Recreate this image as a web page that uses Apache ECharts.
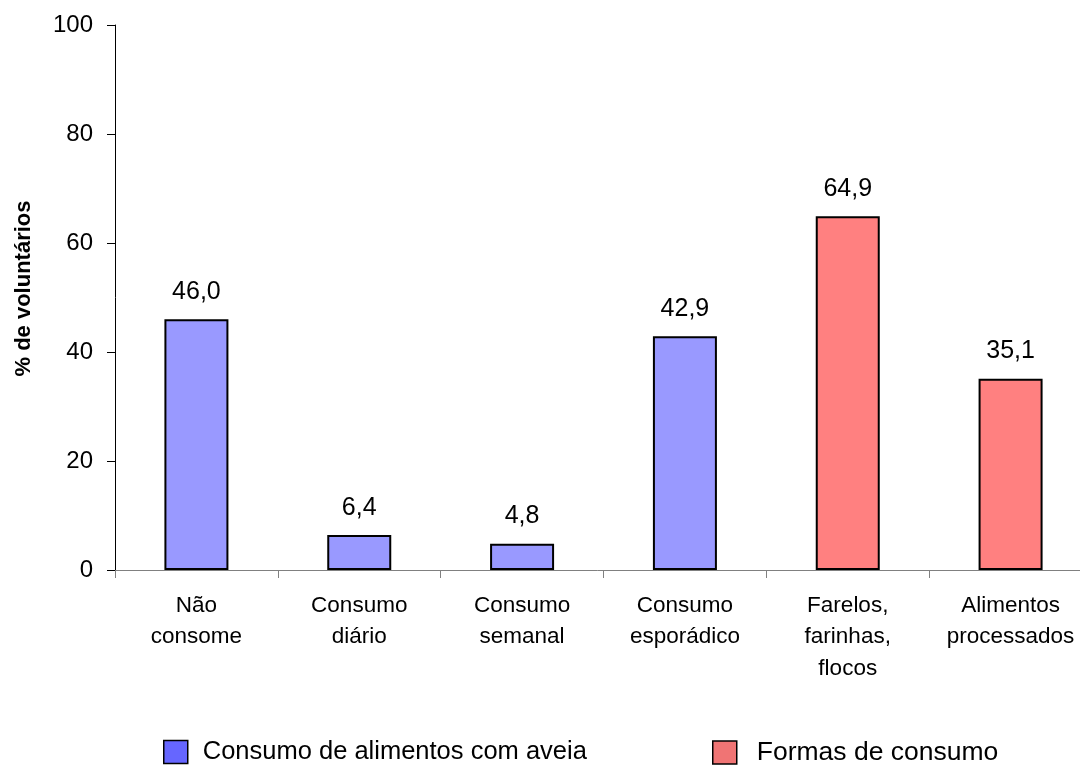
<!DOCTYPE html>
<html>
<head>
<meta charset="utf-8">
<script src="https://cdn.jsdelivr.net/npm/echarts@6/dist/echarts.min.js"></script>
<style>
  html, body { margin: 0; padding: 0; background: #fff; }
  #chart { width: 1080px; height: 765px; }
</style>
</head>
<body>
<div id="chart"></div>
<script>
// Categories along the x axis
const categories = [
  'Não\nconsome',
  'Consumo\ndiário',
  'Consumo\nsemanal',
  'Consumo\nesporádico',
  'Farelos,\nfarinhas,\nflocos',
  'Alimentos\nprocessados'
];
// Percentages for each group (null where the group has no bar)
const consumoAveia = [46.0, 6.4, 4.8, 42.9, null, null];
const formasConsumo = [null, null, null, null, 64.9, 35.1];
const seriesNames = ['Consumo de alimentos com aveia', 'Formas de consumo'];
const yTicks = { min: 0, max: 100, interval: 20 };

const font = 'Arial, "Liberation Sans", sans-serif';

const labelOpt = {
  show: true,
  position: 'top',
  distance: 15,
  fontFamily: font,
  fontSize: 25,
  color: '#000',
  formatter: p => p.value == null ? '' : Number(p.value).toFixed(1).replace('.', ',')
};

const legendBase = {
  icon: 'rect',
  top: 734,
  itemWidth: 24,
  itemHeight: 23,
  orient: 'horizontal'
};

const chart = echarts.init(document.getElementById('chart'), null, { renderer: 'canvas' });
chart.setOption({
  backgroundColor: '#fff',
  animation: false,
  // the last category runs a little past the right edge of the page
  grid: { left: 115, top: 25, bottom: 195, right: -12, outerBoundsMode: 'none' },
  legend: [
    Object.assign({}, legendBase, {
      left: 158,
      textStyle: { fontFamily: font, fontSize: 25.5, color: '#000', padding: [0, 0, 0, 10] },
      data: [{ name: seriesNames[0], itemStyle: { color: '#6666FF', borderColor: '#000', borderWidth: 1.5 } }]
    }),
    Object.assign({}, legendBase, {
      left: 707,
      textStyle: { fontFamily: font, fontSize: 26.5, color: '#000', padding: [0, 0, 0, 15] },
      data: [{ name: seriesNames[1], itemStyle: { color: '#F07474', borderColor: '#000', borderWidth: 1.5 } }]
    })
  ],
  xAxis: {
    type: 'category',
    data: categories,
    boundaryGap: true,
    axisLine: { lineStyle: { color: '#808080', width: 1 } },
    axisTick: { show: true, length: 8, lineStyle: { color: '#808080' } },
    axisLabel: {
      interval: 0,
      margin: 20,
      fontFamily: font,
      fontSize: 22.5,
      lineHeight: 31.5,
      color: '#000'
    },
    splitLine: { show: false }
  },
  yAxis: {
    type: 'value',
    min: yTicks.min,
    max: yTicks.max,
    interval: yTicks.interval,
    name: '% de voluntários',
    nameLocation: 'middle',
    nameRotate: 90,
    nameGap: 80,
    nameTextStyle: { fontFamily: font, fontSize: 22, fontWeight: 'bold', color: '#000', padding: [0, 0, 0, 18] },
    axisLine: { show: true, lineStyle: { color: '#000', width: 1 } },
    axisTick: { show: true, length: 8, lineStyle: { color: '#000' } },
    axisLabel: { margin: 22, fontFamily: font, fontSize: 24, color: '#000' },
    splitLine: { show: false }
  },
  series: [
    {
      name: seriesNames[0],
      type: 'bar',
      data: consumoAveia,
      barWidth: 64,
      barGap: '-100%',
      itemStyle: { color: '#9999FF', borderColor: '#000', borderWidth: 2 },
      label: labelOpt
    },
    {
      name: seriesNames[1],
      type: 'bar',
      data: formasConsumo,
      barWidth: 64,
      barGap: '-100%',
      itemStyle: { color: '#FF8080', borderColor: '#000', borderWidth: 2 },
      label: labelOpt
    }
  ]
});
</script>
</body>
</html>
